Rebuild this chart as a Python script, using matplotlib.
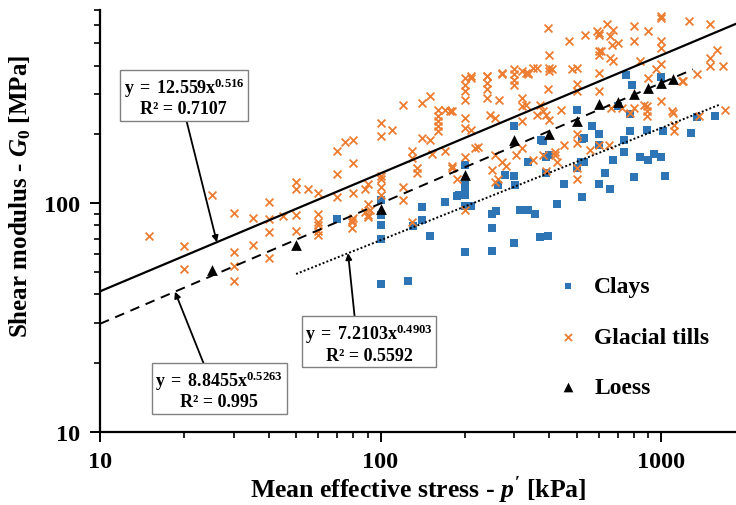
import numpy as np
import matplotlib
matplotlib.use("Agg")
import matplotlib.pyplot as plt
from matplotlib.ticker import LogLocator, NullFormatter, FixedLocator, FixedFormatter

plt.rcParams['font.family'] = ['Liberation Serif', 'DejaVu Serif']
plt.rcParams['font.weight'] = 'bold'
plt.rcParams['mathtext.fontset'] = 'custom'
plt.rcParams['mathtext.rm'] = 'Liberation Serif:bold'
plt.rcParams['mathtext.it'] = 'Liberation Serif:bold:italic'
plt.rcParams['mathtext.bf'] = 'Liberation Serif:bold'

# ---------------- data ----------------
clays_p = [70, 100, 100, 100, 125, 140, 140, 131, 150, 170, 187, 200, 200, 211, 200,
           250, 250, 250, 200, 200, 200, 190, 259, 300, 314, 336, 356, 371, 396, 300,
           278, 300, 301, 263, 336, 390, 400, 390, 380, 425, 450, 500, 522, 530, 500,
           522, 750, 790, 1000, 700, 566, 600, 775, 888, 1015, 1280, 1340, 1560, 373,
           775, 600, 530, 740, 740, 841, 900, 940, 1000, 676, 520, 630, 600, 657, 800,
           1030, 100, 100]
clays_g = [85, 89, 70, 44.3, 45.6, 96, 84.6, 79.8, 72.1, 101, 108, 111, 97, 97, 61.4,
           90, 78, 61.8, 147, 120, 109, 109, 92.5, 66.8, 93.5, 93.5, 90, 71.5, 72, 217,
           133, 131, 120, 120, 152, 160, 163, 135, 187, 99, 121, 256, 191, 152, 142,
           107, 363, 328, 357, 266, 218, 200, 206, 210, 206, 203, 238, 240, 190,
           245, 180, 193, 190, 167, 159, 155, 165, 160, 155, 152, 135, 122, 116, 130,
           131, 103, 80]

tills_p = [15, 20, 20, 25, 30, 30, 30, 30, 35, 35, 40, 40, 40, 40, 45, 50, 50, 55, 50, 50,
           60, 60, 60, 60, 70, 70, 70, 75, 80, 80, 80, 88, 88, 80, 79, 79, 90, 90, 90,
           100, 100, 100, 100, 100, 100, 110, 120, 120, 120, 130, 130, 135, 135, 140, 140,
           150, 150, 160, 160, 160, 160, 160, 180, 170, 180, 188, 153, 200, 200, 200, 200,
           200, 200, 210, 200, 170, 240, 240, 240, 240, 245, 255, 270, 265, 300, 300, 300,
           320, 335, 360, 410, 500, 500, 500, 396, 320, 330, 320, 370, 380, 390, 400, 360,
           440, 320, 223, 217, 255, 270, 305, 320, 380, 350, 420, 420, 500, 500, 500, 450,
           180, 250, 255, 280, 390, 425, 500,
           1000, 1000, 1260, 1500, 640, 676, 535, 600, 600, 660, 700, 670, 800, 900, 800,
           1000, 1000, 600, 600, 610, 657, 676, 840, 1000, 1580, 1500, 1500, 1660, 600, 900,
           960, 1340, 1190, 600, 665, 725, 890, 890, 890, 1000, 1090, 1110, 1360, 1690, 650,
           560, 800, 1110,
           396, 470, 590, 400, 400, 480, 350, 330, 270, 300, 177, 210,
           263, 775, 1100, 1200, 870, 600,
           60, 60, 79, 90, 92, 130, 200, 210, 240, 400, 335]
tills_g = [72, 65, 51.5, 109, 91, 61.4, 53, 45.6, 86.5, 66, 101, 85, 75, 57.4, 88, 124, 116, 116, 89, 76,
           111, 90, 80.5, 72.6, 169, 134, 107, 185, 150, 111, 86, 116, 92, 190, 84.6, 77.7, 122, 99, 87,
           224, 196, 131, 128, 118, 109, 210, 268, 118, 103, 169, 158, 142, 135, 275, 193,
           294, 190, 256, 240, 229, 217, 206, 252, 169, 142, 128, 165, 353, 330, 309, 284,
           236, 213, 210, 160, 256, 359, 334, 315, 289, 244, 236, 368, 284, 366, 346, 330,
           378, 368, 391, 386, 391, 333, 309, 315, 289, 268, 266, 268, 252, 244, 232, 244,
           256, 229, 177, 174, 163, 152, 163, 174, 163, 155, 163, 168, 200, 183, 142, 180,
           145, 140, 124, 145, 138, 152, 128,
           659, 647, 626, 610, 610, 570, 544, 554, 546, 538, 502, 493, 595, 566, 512,
           512, 478, 463, 447, 463, 433, 421, 418, 405, 470, 433, 399, 399, 372, 353,
           386, 366, 342, 309, 261, 261, 266, 252, 240, 279, 252, 220, 240, 256, 180,
           171, 261, 206,
           586, 512, 566, 447, 391, 386, 391, 372, 372, 386, 252, 353,
           128, 247, 247, 342, 270, 180,
           83, 76, 83, 89, 93.5, 83, 93.5, 359, 359, 378, 372]

loess_p = [25, 50, 100, 200, 300, 400, 500, 600, 700, 800, 900, 1000, 1100]
loess_g = [51, 66, 94, 133, 190, 201, 229, 272, 277, 300, 319, 336, 350]

# power-law fits  G0 = a * p'^b
fit_all = (12.559, 0.516)      # solid
fit_loess = (8.8455, 0.5263)   # dashed
fit_clays = (7.2103, 0.4903)   # dotted
fit_all_range = (10, 1900)
fit_loess_range = (10, 1300)
fit_clays_range = (50, 1620)

labels_series = ['Clays', 'Glacial tills', 'Loess']
eq_all = ('12.559', '0.516', '0.7107')
eq_loess = ('8.8455', '0.5263', '0.995')
eq_clays = ('7.2103', '0.4903', '0.5592')

c_blue = '#2E75B6'
c_orange = '#ED7D31'

# ---------------- figure ----------------
fig = plt.figure(figsize=(7.36, 5.06), dpi=100)
ax = fig.add_axes([100/736, 73/506, 636/736, 422/506])
ax.set_xscale('log')
ax.set_yscale('log')
ax.set_xlim(10, 1850)
ax.set_ylim(10, 700)

ax.scatter(clays_p, clays_g, marker='s', s=26, color=c_blue, linewidths=0, zorder=3,
           label=labels_series[0])
ax.scatter(tills_p, tills_g, marker='x', s=32, color=c_orange, linewidths=1.3, zorder=3,
           label=labels_series[1])
ax.scatter(loess_p, loess_g, marker='^', s=60, color='black', linewidths=0, zorder=4,
           label=labels_series[2])

def fit_curve(fit, rng):
    xx = np.logspace(np.log10(rng[0]), np.log10(rng[1]), 100)
    return xx, fit[0] * xx ** fit[1]

x1, y1 = fit_curve(fit_all, fit_all_range)
ax.plot(x1, y1, color='black', lw=1.6, zorder=5)
x2, y2 = fit_curve(fit_loess, fit_loess_range)
ax.plot(x2, y2, color='black', lw=1.4, ls=(0, (5, 3.5)), zorder=5)
x3, y3 = fit_curve(fit_clays, fit_clays_range)
ax.plot(x3, y3, color='black', lw=1.4, ls=(0, (1, 1.1)), zorder=5)

# spines & ticks
for s in ['top', 'right']:
    ax.spines[s].set_visible(False)
for s in ['left', 'bottom']:
    ax.spines[s].set_linewidth(1.6)
ax.xaxis.set_major_locator(FixedLocator([10, 100, 1000]))
ax.xaxis.set_major_formatter(FixedFormatter(['10', '100', '1000']))
ax.yaxis.set_major_locator(FixedLocator([10, 100]))
ax.yaxis.set_major_formatter(FixedFormatter(['10', '100']))
ax.xaxis.set_minor_locator(LogLocator(base=10, subs=np.arange(2, 10)))
ax.yaxis.set_minor_locator(LogLocator(base=10, subs=np.arange(2, 10)))
ax.xaxis.set_minor_formatter(NullFormatter())
ax.yaxis.set_minor_formatter(NullFormatter())
ax.tick_params(which='major', direction='out', length=7, width=1.4, labelsize=17.5, pad=7)
ax.tick_params(which='minor', direction='out', length=4, width=1.2)

ax.set_xlabel("Mean effective stress - $p'$ [kPa]", fontsize=18.5, fontweight='bold', labelpad=1)
ax.set_ylabel("Shear modulus - $G_0$ [MPa]", fontsize=18, fontweight='bold')
ax.yaxis.set_label_coords(-0.105, 0.56)

# legend
leg = ax.legend(loc='upper left', bbox_to_anchor=(0.68, 0.398), frameon=False,
                fontsize=17, labelspacing=1.22, handletextpad=0.12, borderpad=0,
                markerscale=0.9, scatterpoints=1)

# equation boxes with arrows
box_kw = dict(boxstyle='square,pad=0.2', fc='white', ec='#808080', lw=1.0)
def eq_text(eq):
    return "$\\mathrm{y\\;=\\;" + eq[0] + "x^{" + eq[1] + "}}$\nR² = " + eq[2]

def fy(fit, x):
    return fit[0] * x ** fit[1]

ann = [
    (eq_all, (19.9, 294), (20.1, 243), 26.1, fit_all),
    (eq_loess, (26.6, 15.4), (23.7, 19.2), 18.5, fit_loess),
    (eq_clays, (91.0, 24.6), (81.1, 30.8), 76.6, fit_clays),
]
for eq, cpos, start, tipx, fit in ann:
    ax.annotate('', xy=(tipx, fy(fit, tipx)), xytext=start,
                arrowprops=dict(arrowstyle='-|>', color='black', lw=1.3,
                                mutation_scale=9, shrinkA=0, shrinkB=0), zorder=6)
    ax.text(cpos[0], cpos[1], eq_text(eq), ha='center', va='center', fontsize=13,
            fontweight='bold', linespacing=1.12, bbox=box_kw, zorder=7)

fig.savefig('out.png', dpi=100)
